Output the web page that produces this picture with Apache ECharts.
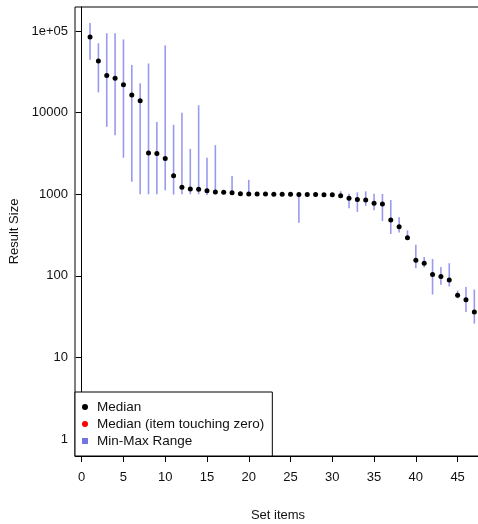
<!DOCTYPE html>
<html>
<head>
  <meta charset="utf-8">
</head>
<body style="margin: 0">
  <div id="container" style="width: 478px; height: 524px"></div>
  <script src="https://cdn.jsdelivr.net/npm/echarts@6/dist/echarts.min.js"></script>
  <script>
    // item index, median, min and max result size
    var items = [];
    for (var i = 1; i <= 47; i++) items.push(i);
    var medians = [84400, 42900, 28600, 26300, 22000, 16400, 14000, 3200, 3150, 2750,
      1680, 1220, 1160, 1150, 1100, 1064, 1055, 1045, 1017, 1010,
      1008, 1005, 1003, 1000, 998, 995, 993, 990, 983, 985,
      960, 890, 865, 849, 776, 760, 483, 400, 294, 155,
      143, 104, 98, 89, 58, 51, 36];
    var rangeMin = [44500, 17700, 6700, 5300, 2800, 1420, 1000, 1000, 1000, 1120,
      990, 1000, 1000, 1000, 970, 1000, 1040, 1000, 1000, 1000,
      1000, 990, 1000, 1000, 995, 448, 990, 985, 980, 980,
      930, 673, 608, 719, 637, 470, 326, 339, 280, 124,
      127, 59, 78, 74, 53, 36, 26];
    var rangeMax = [125000, 70700, 93800, 93800, 79000, 38300, 22900, 40000, 7700, 66600,
      7100, 10000, 3600, 12300, 2800, 4000, 1070, 1670, 1040, 1500,
      1020, 1010, 1010, 1005, 1000, 1000, 1000, 995, 990, 990,
      1090, 1016, 1055, 1085, 1016, 1008, 849, 524, 361, 241,
      170, 161, 128, 143, 66, 73, 68];
    var xTicks = [0, 5, 10, 15, 20, 25, 30, 35, 40, 45];
    var yTicks = [1, 10, 100, 1000, 10000, 100000];

    var chart = echarts.init(document.getElementById('container'), null, { renderer: 'canvas' });

    var rangeColor = 'rgba(70,70,225,0.55)';
    var font = 'Liberation Sans';

    var option = {
      animation: false,
      textStyle: { fontFamily: font },
      grid: {
        left: 75, right: -3, top: 7, bottom: 68,
        outerBoundsMode: 'none',
        containLabel: false,
        show: true, borderColor: '#000', borderWidth: 1
      },
      legend: {
        orient: 'vertical',
        left: 75, top: 392,
        padding: [8, 8, 8, 7],
        itemWidth: 6, itemHeight: 6,
        itemGap: 3,
        borderColor: '#000', borderWidth: 1,
        backgroundColor: '#fff',
        textStyle: { fontSize: 13.5, color: '#111', lineHeight: 14, padding: [0, 0, 0, 4], fontFamily: font },
        data: [
          { name: 'Median', icon: 'circle' },
          { name: 'Median (item touching zero)', icon: 'circle' },
          { name: 'Min-Max Range', icon: 'rect' }
        ]
      },
      xAxis: {
        type: 'value',
        min: -0.8, max: 47.8,
        name: 'Set items', nameLocation: 'middle', nameGap: 53,
        nameTextStyle: { fontSize: 13, color: '#111' },
        axisLine: { show: true, lineStyle: { color: '#000' } },
        axisTick: { show: true, length: 6, customValues: xTicks, lineStyle: { color: '#000' } },
        axisLabel: { customValues: xTicks, margin: 15, fontSize: 13, color: '#111' },
        splitLine: { show: false }
      },
      yAxis: {
        type: 'log',
        min: 0.62, max: 197000,
        name: 'Result Size', nameLocation: 'middle', nameGap: 49, nameRotate: 90,
        nameTextStyle: { fontSize: 13, color: '#111' },
        axisLine: { show: true, lineStyle: { color: '#000' } },
        axisTick: { show: true, length: 6, customValues: yTicks, lineStyle: { color: '#000' } },
        axisLabel: {
          customValues: yTicks, margin: 7, fontSize: 13, color: '#111',
          formatter: function (v) { return v >= 100000 ? '1e+05' : String(Math.round(v)); }
        },
        splitLine: { show: false }
      },
      series: [
        {
          name: 'Min-Max Range',
          type: 'custom',
          itemStyle: { color: '#7474e0' },
          data: items.map(function (x, i) { return [x, rangeMin[i], rangeMax[i]]; }),
          encode: { x: 0, y: [1, 2] },
          renderItem: function (params, api) {
            var lo = api.coord([api.value(0), api.value(1)]);
            var hi = api.coord([api.value(0), api.value(2)]);
            return {
              type: 'line',
              shape: { x1: lo[0], y1: lo[1], x2: hi[0], y2: hi[1] },
              style: { stroke: rangeColor, lineWidth: 1.6 }
            };
          }
        },
        {
          name: 'Median',
          type: 'scatter',
          symbol: 'circle',
          symbolSize: 5,
          itemStyle: { color: '#000', opacity: 1 },
          data: items.map(function (x, i) { return [x, medians[i]]; }),
          z: 5
        },
        {
          name: 'Median (item touching zero)',
          type: 'scatter',
          symbolSize: 5,
          itemStyle: { color: '#ff0000', opacity: 1 },
          data: []
        }
      ]
    };

    chart.setOption(option);
  </script>
</body>
</html>
